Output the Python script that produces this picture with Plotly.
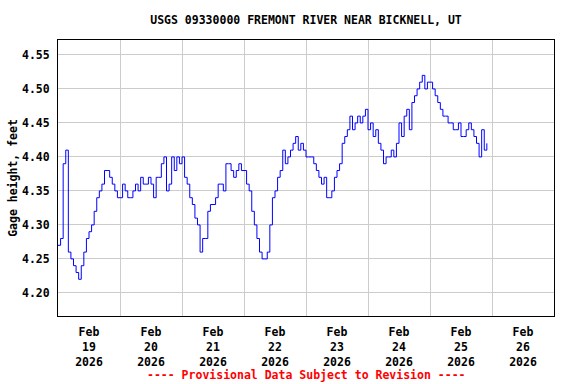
import pandas as pd
import plotly.graph_objects as go

# Hourly gage height readings (feet), starting 2026-02-19 00:00
start_time = "2026-02-19 00:00"
gage_height = [
    4.27, 4.28, 4.39, 4.41, 4.26, 4.25, 4.24, 4.23, 4.22, 4.24,
    4.26, 4.28, 4.29, 4.30, 4.32, 4.34, 4.35, 4.36, 4.38, 4.38,
    4.37, 4.36, 4.35, 4.34, 4.34, 4.36, 4.35, 4.34, 4.34, 4.35,
    4.36, 4.35, 4.37, 4.36, 4.36, 4.37, 4.36, 4.34, 4.37, 4.37,
    4.39, 4.40, 4.35, 4.36, 4.40, 4.38, 4.40, 4.39, 4.40, 4.37,
    4.36, 4.34, 4.33, 4.31, 4.30, 4.26, 4.28, 4.28, 4.32, 4.33,
    4.33, 4.34, 4.36, 4.36, 4.35, 4.39, 4.39, 4.38, 4.37, 4.38,
    4.39, 4.38, 4.38, 4.36, 4.35, 4.32, 4.30, 4.28, 4.26, 4.25,
    4.25, 4.26, 4.30, 4.34, 4.35, 4.37, 4.38, 4.41, 4.39, 4.40,
    4.41, 4.42, 4.43, 4.41, 4.42, 4.41, 4.40, 4.40, 4.40, 4.39,
    4.38, 4.37, 4.36, 4.37, 4.34, 4.34, 4.35, 4.37, 4.38, 4.39,
    4.42, 4.43, 4.44, 4.46, 4.44, 4.45, 4.46, 4.45, 4.46, 4.47,
    4.44, 4.45, 4.43, 4.44, 4.42, 4.41, 4.39, 4.40, 4.40, 4.41,
    4.40, 4.42, 4.45, 4.43, 4.46, 4.47, 4.44, 4.48, 4.49, 4.50,
    4.51, 4.52, 4.50, 4.51, 4.51, 4.50, 4.49, 4.48, 4.47, 4.46,
    4.46, 4.45, 4.45, 4.44, 4.44, 4.45, 4.43, 4.43, 4.44, 4.45,
    4.44, 4.43, 4.42, 4.40, 4.44, 4.41, 4.42,
]
y_ticks = [4.20, 4.25, 4.30, 4.35, 4.40, 4.45, 4.50, 4.55]
x_range = ["2026-02-19", "2026-02-27"]
title_text = "USGS 09330000 FREMONT RIVER NEAR BICKNELL, UT"
y_title = "Gage height, feet"
footer_text = "---- Provisional Data Subject to Revision ----"

times = pd.date_range(start_time, periods=len(gage_height), freq="h")

FONT = "DejaVu Sans Mono"
FS = 11.5

fig = go.Figure()
fig.add_trace(go.Scatter(
    x=times, y=gage_height, mode="lines",
    line=dict(color="#0000FF", width=1, shape="hv"),
    hoverinfo="x+y", showlegend=False,
))

fig.update_layout(
    width=576, height=384,
    margin=dict(l=58, r=22, t=40, b=68, autoexpand=False),
    paper_bgcolor="white", plot_bgcolor="white",
    font=dict(family=FONT, size=FS, color="black", weight="bold"),
    title=dict(text=title_text, x=0.5, xref="paper", xanchor="center",
               y=1 - 20 / 384, yref="container", yanchor="middle",
               font=dict(family=FONT, size=FS, color="black", weight="bold")),
    xaxis=dict(
        type="date", range=x_range, dtick=86400000, tick0=x_range[0],
        ticklabelmode="period", tickformat="%b<br>%d<br>%Y",
        showgrid=True, gridcolor="#CCCCCC", gridwidth=1,
        showline=True, linecolor="black", linewidth=1, mirror=True,
        ticks="", zeroline=False, automargin=False, ticklabelstandoff=5,
        tickfont=dict(family=FONT, size=FS, color="black", weight="bold"),
    ),
    yaxis=dict(
        range=[4.166, 4.572], tickvals=y_ticks, tickformat=".2f",
        showgrid=True, gridcolor="#CCCCCC", gridwidth=1,
        showline=True, linecolor="black", linewidth=1, mirror=True,
        ticks="", zeroline=False, ticklabelstandoff=5, automargin=False,
        tickfont=dict(family=FONT, size=FS, color="black", weight="bold"),
        title=dict(text=y_title, standoff=1,
                   font=dict(family=FONT, size=FS, color="black", weight="bold")),
    ),
    annotations=[dict(
        text=footer_text, xref="paper", yref="paper", x=0.5, y=-(375 - 316) / 276,
        xanchor="center", yanchor="middle", showarrow=False,
        font=dict(family=FONT, size=FS, color="red", weight="bold"),
    )],
)

fig.write_html("out.html", config={"displayModeBar": False},
               post_script="document.body.style.margin='0';")
